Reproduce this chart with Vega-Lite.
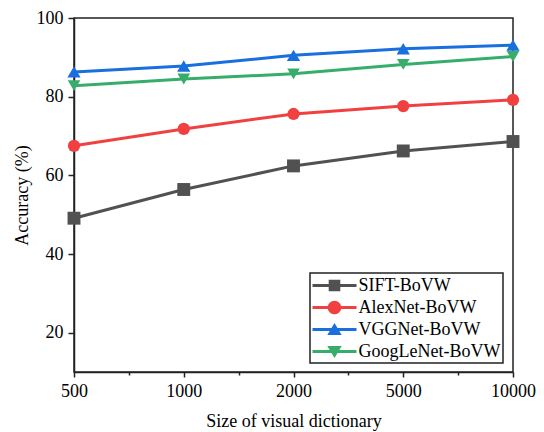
{
  "$schema": "https://vega.github.io/schema/vega-lite/v6.json",
  "autosize": "none",
  "width": 439,
  "height": 354,
  "padding": {"left": 74, "top": 18, "right": 31, "bottom": 60},
  "background": "white",
  "config": {
    "font": "Liberation Serif",
    "view": {"stroke": "#222222", "strokeWidth": 1.5},
    "axis": {
      "grid": false,
      "domainColor": "#222222",
      "domainWidth": 1.5,
      "tickColor": "#222222",
      "tickWidth": 1.5,
      "labelFont": "Liberation Serif",
      "labelFontSize": 18,
      "labelColor": "#000000",
      "titleFont": "Liberation Serif",
      "titleFontSize": 18,
      "titleFontWeight": "normal",
      "titleColor": "#000000"
    }
  },
  "data": {
    "values": [
      {"size": 500, "model": "SIFT-BoVW", "acc": 49.1},
      {"size": 1000, "model": "SIFT-BoVW", "acc": 56.4},
      {"size": 2000, "model": "SIFT-BoVW", "acc": 62.4},
      {"size": 5000, "model": "SIFT-BoVW", "acc": 66.2},
      {"size": 10000, "model": "SIFT-BoVW", "acc": 68.6},
      {"size": 500, "model": "AlexNet-BoVW", "acc": 67.5},
      {"size": 1000, "model": "AlexNet-BoVW", "acc": 71.8},
      {"size": 2000, "model": "AlexNet-BoVW", "acc": 75.6},
      {"size": 5000, "model": "AlexNet-BoVW", "acc": 77.6},
      {"size": 10000, "model": "AlexNet-BoVW", "acc": 79.2},
      {"size": 500, "model": "VGGNet-BoVW", "acc": 86.3},
      {"size": 1000, "model": "VGGNet-BoVW", "acc": 87.8},
      {"size": 2000, "model": "VGGNet-BoVW", "acc": 90.5},
      {"size": 5000, "model": "VGGNet-BoVW", "acc": 92.2},
      {"size": 10000, "model": "VGGNet-BoVW", "acc": 93.1},
      {"size": 500, "model": "GoogLeNet-BoVW", "acc": 82.8},
      {"size": 1000, "model": "GoogLeNet-BoVW", "acc": 84.5},
      {"size": 2000, "model": "GoogLeNet-BoVW", "acc": 85.8},
      {"size": 5000, "model": "GoogLeNet-BoVW", "acc": 88.2},
      {"size": 10000, "model": "GoogLeNet-BoVW", "acc": 90.2}
    ]
  },
  "resolve": {"legend": {"shape": "independent", "size": "independent"}},
  "encoding": {
    "x": {
      "field": "size",
      "type": "quantitative",
      "title": "Size of visual dictionary",
      "scale": {
        "domain": [500, 1000, 2000, 5000, 10000],
        "range": [0, {"expr": "width/4"}, {"expr": "width/2"}, {"expr": "3*width/4"}, {"expr": "width"}],
        "zero": false,
        "nice": false
      },
      "axis": {
        "values": [500, 750, 1000, 1500, 2000, 3500, 5000, 7500, 10000],
        "format": "d",
        "labelExpr": "indexof([500, 1000, 2000, 5000, 10000], datum.value) >= 0 ? datum.label : ''",
        "tickSize": {"condition": {"test": "indexof([500, 1000, 2000, 5000, 10000], datum.value) < 0", "value": 3}, "value": 5},
        "labelPadding": 5,
        "titlePadding": 12,
        "labelFlush": false,
        "labelOverlap": false
      }
    },
    "y": {
      "field": "acc",
      "type": "quantitative",
      "title": "Accuracy (%)",
      "scale": {"domain": [10, 100], "zero": false, "nice": false},
      "axis": {
        "values": [20, 40, 60, 80, 100],
        "tickSize": 6,
        "labelPadding": 5,
        "titlePadding": 5
      }
    }
  },
  "layer": [
    {
      "mark": {"type": "line", "strokeWidth": 3},
      "encoding": {
        "order": {"field": "size", "type": "quantitative"},
        "color": {
          "field": "model",
          "type": "nominal",
          "scale": {
            "domain": ["SIFT-BoVW", "AlexNet-BoVW", "VGGNet-BoVW", "GoogLeNet-BoVW"],
            "range": ["#515151", "#F14040", "#1A6FDF", "#37AD6B"]
          },
          "legend": {
            "title": null,
            "orient": "none",
            "legendX": 236,
            "legendY": 255,
            "padding": 2.5,
            "strokeColor": "#222222",
            "fillColor": "white",
            "cornerRadius": 0,
            "symbolSize": 400,
            "symbolStrokeWidth": 0,
            "symbolOffset": 12,
            "labelOffset": 14,
            "rowPadding": 3,
            "labelFont": "Liberation Serif",
            "labelFontSize": 18,
            "labelColor": "#000000",
            "labelLimit": 300,
            "encode": {
              "legend": {
                "update": {"strokeWidth": {"value": 1.5}}
              },
              "symbols": {
                "update": {
                  "shape": {"signal": "datum.value === 'SIFT-BoVW' ? 'M-2.2,-0.15H2.2V0.15H-2.2Z M-0.58,-0.58H0.58V0.58H-0.58Z' : datum.value === 'AlexNet-BoVW' ? 'M-2.2,-0.15H2.2V0.15H-2.2Z M-0.68,0A0.68,0.68 0 1,1 0.68,0A0.68,0.68 0 1,1 -0.68,0Z' : datum.value === 'VGGNet-BoVW' ? 'M-2.2,-0.15H2.2V0.15H-2.2Z M0,-0.65L0.72,0.55L-0.72,0.55Z' : 'M-2.2,-0.15H2.2V0.15H-2.2Z M0,0.65L-0.72,-0.55L0.72,-0.55Z'"},
                  "fill": {"signal": "scale('color', datum.value)"},
                  "size": {"value": 400},
                  "opacity": {"value": 1}
                }
              }
            }
          }
        }
      }
    },
    {
      "mark": {"type": "point", "filled": true, "opacity": 1},
      "encoding": {
        "color": {"field": "model", "type": "nominal", "legend": null},
        "shape": {
          "field": "model",
          "type": "nominal",
          "scale": {
            "range": ["circle", "triangle-down", "square", "triangle-up"]
          },
          "legend": null
        },
        "size": {
          "field": "model",
          "type": "nominal",
          "scale": {
            "range": [150, 175, 120, 175]
          },
          "legend": null
        }
      }
    }
  ]
}
